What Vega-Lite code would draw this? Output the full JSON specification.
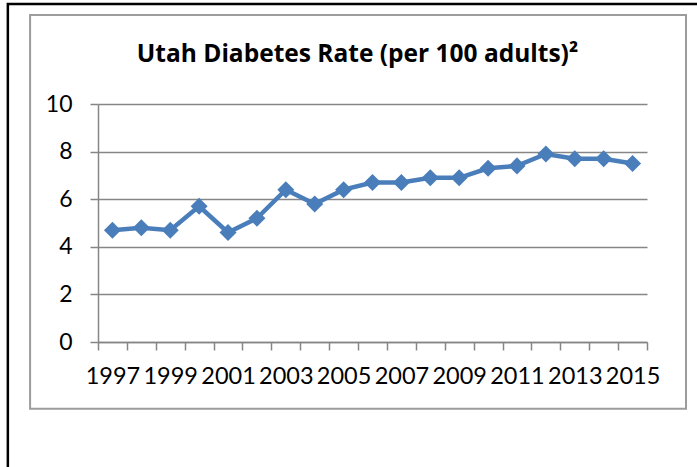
{
  "$schema": "https://vega.github.io/schema/vega-lite/v6.json",
  "width": 549,
  "height": 238,
  "autosize": {"type": "none"},
  "padding": {"left": 98, "top": 104, "right": 50, "bottom": 125},
  "background": "white",
  "config": {"view": {"stroke": null}},
  "title": {
    "text": "Utah Diabetes Rate (per 100 adults)²",
    "font": "Open Sans",
    "fontSize": 24.5,
    "fontWeight": "bold",
    "color": "black",
    "anchor": "middle",
    "dx": -15,
    "offset": -65
  },
  "data": {
    "values": [
      {"year": 1997, "rate": 4.7},
      {"year": 1998, "rate": 4.8},
      {"year": 1999, "rate": 4.7},
      {"year": 2000, "rate": 5.7},
      {"year": 2001, "rate": 4.6},
      {"year": 2002, "rate": 5.2},
      {"year": 2003, "rate": 6.4},
      {"year": 2004, "rate": 5.8},
      {"year": 2005, "rate": 6.4},
      {"year": 2006, "rate": 6.7},
      {"year": 2007, "rate": 6.7},
      {"year": 2008, "rate": 6.9},
      {"year": 2009, "rate": 6.9},
      {"year": 2010, "rate": 7.3},
      {"year": 2011, "rate": 7.4},
      {"year": 2012, "rate": 7.9},
      {"year": 2013, "rate": 7.7},
      {"year": 2014, "rate": 7.7},
      {"year": 2015, "rate": 7.5}
    ]
  },
  "resolve": {"axis": {"x": "independent"}},
  "layer": [
    {
      "data": {"values": [{"frame": "outer"}]},
      "mark": {"type": "rect", "filled": false, "stroke": "black", "strokeWidth": 2.5, "clip": false},
      "encoding": {
        "x": {"datum": 1993.38, "type": "quantitative", "scale": {"domain": [1996.5, 2015.5], "nice": false, "zero": false}, "axis": null},
        "x2": {"datum": 2017.8},
        "y": {
          "datum": 14.2, "type": "quantitative", "scale": {"domain": [0, 10], "nice": false},
          "axis": {
            "values": [0, 2, 4, 6, 8, 10],
            "title": null,
            "grid": true, "gridColor": "#868686", "gridWidth": 1.5,
            "domain": true, "domainColor": "#868686", "domainWidth": 1.5,
            "ticks": true, "tickSize": 8, "tickColor": "#868686", "tickWidth": 1.5,
            "labelFont": "Lato", "labelFontSize": 23, "labelColor": "black", "labelPadding": 18
          }
        },
        "y2": {"datum": -6}
      }
    },
    {
      "data": {"values": [{"frame": "inner"}]},
      "mark": {"type": "rect", "filled": false, "stroke": "#9c9c9c", "strokeWidth": 2, "clip": false},
      "encoding": {
        "x": {"datum": 1994.15, "type": "quantitative", "axis": null},
        "x2": {"datum": 2016.85},
        "y": {"datum": 13.74, "type": "quantitative"},
        "y2": {"datum": -2.8}
      }
    },
    {
      "mark": {"type": "line", "stroke": "#4A7EBB", "strokeWidth": 4.5},
      "encoding": {
        "x": {
          "field": "year", "type": "quantitative",
          "axis": {
            "orient": "bottom",
            "values": [1996.5, 1997.5, 1998.5, 1999.5, 2000.5, 2001.5, 2002.5, 2003.5, 2004.5, 2005.5, 2006.5, 2007.5, 2008.5, 2009.5, 2010.5, 2011.5, 2012.5, 2013.5, 2014.5, 2015.5],
            "labels": false, "grid": false, "title": null,
            "ticks": true, "tickSize": 8, "tickColor": "#868686", "tickWidth": 1.5,
            "domain": true, "domainColor": "#868686", "domainWidth": 1.5
          }
        },
        "y": {"field": "rate", "type": "quantitative"}
      }
    },
    {
      "mark": {"type": "point", "shape": "diamond", "filled": true, "fill": "#4A7EBB", "opacity": 1, "size": 290},
      "encoding": {
        "x": {
          "field": "year", "type": "quantitative",
          "axis": {
            "orient": "bottom",
            "values": [1997, 1999, 2001, 2003, 2005, 2007, 2009, 2011, 2013, 2015],
            "format": "d",
            "labels": true, "grid": false, "title": null, "ticks": false, "tickSize": 0, "domain": false,
            "labelFont": "Lato", "labelFontSize": 23.5, "labelColor": "black", "labelPadding": 22,
            "labelOverlap": false, "labelFlush": false
          }
        },
        "y": {"field": "rate", "type": "quantitative"}
      }
    }
  ]
}
